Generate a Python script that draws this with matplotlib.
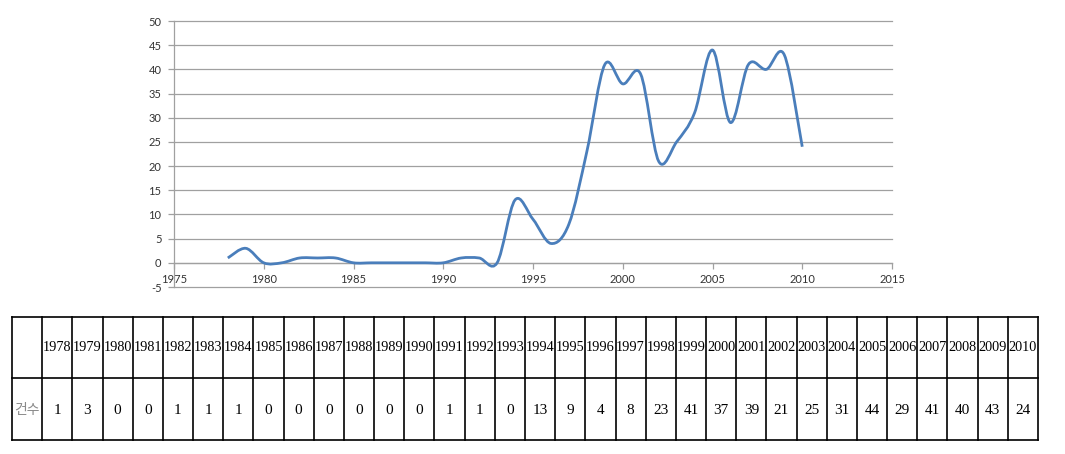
import matplotlib
matplotlib.use("Agg")
import matplotlib.pyplot as plt
from matplotlib.path import Path
from matplotlib.patches import PathPatch
import numpy as np

years = [1978, 1979, 1980, 1981, 1982, 1983, 1984, 1985, 1986, 1987, 1988,
         1989, 1990, 1991, 1992, 1993, 1994, 1995, 1996, 1997, 1998, 1999,
         2000, 2001, 2002, 2003, 2004, 2005, 2006, 2007, 2008, 2009, 2010]
counts = [1, 3, 0, 0, 1, 1, 1, 0, 0, 0, 0, 0, 0, 1, 1, 0, 13, 9, 4, 8, 23,
          41, 37, 39, 21, 25, 31, 44, 29, 41, 40, 43, 24]
row_label = "건수"
x_ticks = [1975, 1980, 1985, 1990, 1995, 2000, 2005, 2010, 2015]
y_ticks = [-5, 0, 5, 10, 15, 20, 25, 30, 35, 40, 45, 50]

W, H = 1065, 454
fig = plt.figure(figsize=(W / 100, H / 100), dpi=100)

# ---------- chart ----------
ax = fig.add_axes([174 / W, 1 - 287 / H, (892 - 174) / W, (287 - 21) / H])
ax.set_xlim(1975, 2015)
ax.set_ylim(-5, 50)

grid_c = "#a0a0a0"
for yv in y_ticks:
    ax.axhline(yv, color=grid_c, lw=0.9, zorder=1, clip_on=False)

# smoothed line (Catmull-Rom style cubic Bezier, like Excel's smoothing)
P = np.column_stack([years, counts]).astype(float)
n = len(P)
verts = [P[0]]
codes = [Path.MOVETO]
for i in range(n - 1):
    p0 = P[i - 1] if i > 0 else P[i]
    p1 = P[i]
    p2 = P[i + 1]
    p3 = P[i + 2] if i + 2 < n else P[i + 1]
    c1 = p1 + (p2 - p0) / 6.0
    c2 = p2 - (p3 - p1) / 6.0
    verts += [c1, c2, p2]
    codes += [Path.CURVE4] * 3
path = Path(np.array(verts), codes)
ax.add_patch(PathPatch(path, facecolor="none", edgecolor="#4a7ebb", lw=2.0,
                       zorder=3, capstyle="butt", joinstyle="round"))

for s in ["top", "right"]:
    ax.spines[s].set_visible(False)
ax.spines["left"].set_color(grid_c)
ax.spines["left"].set_linewidth(0.9)
ax.spines["bottom"].set_position(("data", 0))
ax.spines["bottom"].set_color(grid_c)
ax.spines["bottom"].set_linewidth(0.9)
ax.set_xticks(x_ticks)
ax.set_yticks(y_ticks)
ax.set_xticklabels([str(v) for v in x_ticks])
ax.set_yticklabels([str(v) for v in y_ticks])
ax.tick_params(axis="both", direction="out", length=4, width=0.9,
               color=grid_c, labelsize=8, labelcolor="#333333")
ax.tick_params(axis="x", pad=4)
ax.tick_params(axis="y", pad=5)
for lab in ax.get_xticklabels() + ax.get_yticklabels():
    lab.set_fontfamily("Lato")

# ---------- table ----------
tx0, tx1 = 12, 1038
ty0, tmid, ty1 = 317, 378, 440
tax = fig.add_axes([0, 0, 1, 1])
tax.set_xlim(0, W)
tax.set_ylim(H, 0)
tax.axis("off")

ncols = len(years) + 1
cw = (tx1 - tx0) / ncols
lw = 1.2
for k in range(ncols + 1):
    x = tx0 + k * cw
    tax.plot([x, x], [ty0, ty1], color="black", lw=lw)
for y in [ty0, tmid, ty1]:
    tax.plot([tx0, tx1], [y, y], color="black", lw=lw)

yc_head = (ty0 + tmid) / 2
yc_data = (tmid + ty1) / 2 + 1
for k, (yr, c) in enumerate(zip(years, counts)):
    xc = tx0 + (k + 1.5) * cw
    tax.text(xc, yc_head, str(yr), ha="center", va="center",
             fontfamily="Liberation Serif", fontsize=10.3, color="black")
    tax.text(xc, yc_data, str(c), ha="center", va="center",
             fontfamily="Liberation Serif", fontsize=11, color="black")
tax.text(tx0 + 0.5 * cw, yc_data, row_label, ha="center", va="center",
         fontfamily=["Noto Sans CJK KR", "DejaVu Sans"], fontsize=10,
         color="#8a8a8a")

fig.savefig("out.png", dpi=100)
